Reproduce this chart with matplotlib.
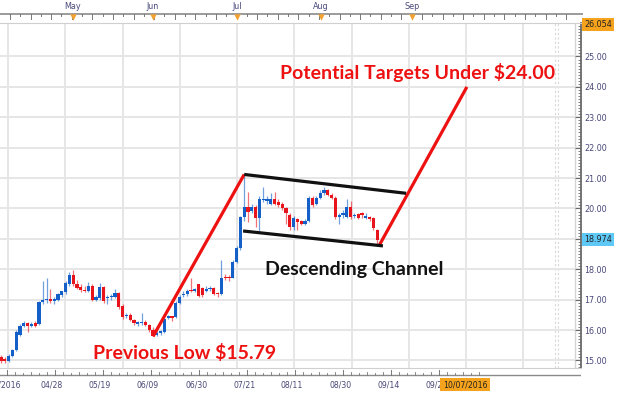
import matplotlib
matplotlib.use("Agg")
import matplotlib.pyplot as plt
from matplotlib.ticker import MultipleLocator
from matplotlib.transforms import blended_transform_factory

# ---------------- data ----------------
opens = [15.12, 15.05, 14.98, 15.15, 15.35, 15.85, 16.15, 16.22, 16.15, 16.22,
         16.20, 16.92, 16.98, 17.02, 16.97, 17.00, 17.15, 17.25, 17.50, 17.82,
         17.50, 17.42, 17.33, 17.30, 17.45, 17.00, 17.05, 17.42, 17.05, 17.08,
         17.10, 17.22, 16.80, 16.45, 16.50, 16.33, 16.20, 16.22, 16.28, 16.17,
         16.00, 15.85, 15.90, 15.95, 16.40, 16.45, 16.42, 16.90, 17.15, 17.20,
         17.32, 17.30, 17.50, 17.38, 17.30, 17.35, 17.38, 17.22, 17.20, 17.75,
         17.75, 17.72, 18.25, 18.70, 19.72, 20.05, 19.92, 20.05, 19.68, 20.28,
         20.25, 20.15, 20.32, 20.20, 20.15, 20.00, 19.78, 19.38, 19.65, 19.58,
         19.50, 19.60, 20.35, 20.15, 20.35, 20.50, 20.60, 20.45, 20.35, 19.72,
         19.78, 19.72, 20.05, 19.75, 19.82, 19.85, 19.70, 19.72, 19.68, 19.30]
highs = [15.18, 15.10, 15.20, 15.38, 16.00, 16.20, 16.30, 16.25, 16.28, 16.30,
         16.95, 17.62, 17.70, 17.35, 17.10, 17.22, 17.30, 17.60, 17.90, 17.97,
         17.65, 17.50, 17.45, 17.58, 17.50, 17.15, 17.55, 17.45, 17.15, 17.20,
         17.35, 17.25, 16.85, 16.55, 16.55, 16.38, 16.30, 16.55, 16.32, 16.20,
         16.10, 15.98, 16.00, 16.40, 16.50, 16.48, 16.95, 17.15, 17.28, 17.35,
         17.70, 17.40, 17.52, 17.42, 17.45, 17.45, 17.42, 17.25, 18.30, 17.85,
         17.80, 18.30, 18.75, 19.75, 21.12, 20.55, 20.15, 20.10, 20.40, 20.70,
         20.40, 20.50, 20.55, 20.30, 20.20, 20.05, 19.85, 19.75, 19.70, 19.62,
         19.65, 20.40, 20.40, 20.40, 20.60, 20.72, 20.65, 20.50, 20.40, 19.85,
         19.95, 20.30, 20.25, 19.85, 19.85, 19.88, 19.85, 19.75, 19.72, 19.32]
lows = [14.93, 14.93, 14.95, 15.12, 15.30, 15.80, 16.10, 15.95, 16.10, 16.10,
        16.18, 16.85, 16.90, 16.90, 16.85, 16.95, 17.10, 17.20, 17.45, 17.45,
        17.35, 17.25, 17.25, 17.25, 16.95, 16.95, 17.00, 16.90, 16.85, 17.00,
        17.05, 16.70, 16.35, 16.40, 16.30, 16.18, 16.15, 16.18, 16.12, 15.95,
        15.79, 15.80, 15.85, 15.92, 16.35, 16.30, 16.40, 16.85, 17.10, 17.12,
        17.25, 17.25, 17.10, 17.10, 17.25, 17.30, 17.15, 17.10, 17.15, 17.65,
        17.60, 17.70, 18.20, 18.65, 19.60, 19.55, 19.85, 19.40, 19.25, 20.20,
        20.15, 20.10, 20.10, 20.05, 19.95, 19.50, 19.30, 19.30, 19.30, 19.45,
        19.45, 19.55, 20.05, 20.10, 20.30, 20.45, 20.40, 20.30, 19.65, 19.50,
        19.70, 19.68, 19.65, 19.68, 19.65, 19.70, 19.65, 19.60, 19.30, 18.80]
closes = [14.98, 14.97, 15.15, 15.35, 15.95, 16.15, 16.22, 16.12, 16.20, 16.15,
          16.92, 17.00, 17.02, 16.97, 17.02, 17.18, 17.27, 17.55, 17.82, 17.50,
          17.40, 17.32, 17.30, 17.45, 17.00, 17.10, 17.42, 16.95, 17.10, 17.12,
          17.22, 16.76, 16.42, 16.50, 16.33, 16.22, 16.25, 16.28, 16.18, 16.00,
          15.82, 15.90, 15.98, 16.38, 16.45, 16.40, 16.90, 17.10, 17.20, 17.30,
          17.28, 17.35, 17.12, 17.15, 17.36, 17.40, 17.20, 17.18, 17.72, 17.72,
          17.70, 18.25, 18.70, 19.72, 20.05, 19.90, 20.05, 19.68, 20.30, 20.32,
          20.30, 20.32, 20.15, 20.12, 20.00, 19.85, 19.38, 19.70, 19.55, 19.50,
          19.58, 20.35, 20.10, 20.35, 20.50, 20.62, 20.45, 20.35, 19.72, 19.78,
          19.85, 20.05, 19.72, 19.80, 19.70, 19.78, 19.75, 19.65, 19.35, 18.97]

price_ticks = [15, 16, 17, 18, 19, 20, 21, 22, 23, 24, 25]
top_price = 26.054
last_price = 18.974

month_labels = ["May", "Jun", "Jul", "Aug", "Sep"]
month_pos = [18.95, 40.0, 62.1, 84.1, 108.2]          # bar-index positions
date_labels = ["04/07/2016", "04/28", "05/19", "06/09", "06/30", "07/21",
               "08/11", "08/30", "09/14", "09/29"]
date_pos = [1.58 + 12.64 * k for k in range(10)]
current_date = "10/07/2016"
current_date_pos = 122.1
vgrid_pos = [1.84 + 15.07 * k for k in range(10)]

# annotation lines (bar index, price)
rally_in_x, rally_in_y = [40, 64], [15.79, 21.12]
rally_out_x, rally_out_y = [99.5, 122.6], [18.78, 24.0]
chan_top_x, chan_top_y = [64, 106.6], [21.12, 20.50]
chan_bot_x, chan_bot_y = [63.7, 100.5], [19.26, 18.77]

txt_target = "Potential Targets Under $24.00"
txt_channel = "Descending Channel"
txt_low = "Previous Low $15.79"

# ---------------- style ----------------
BLUE = "#1560c8"
RED = "#e8141c"
ARED = "#ee1111"
AXC = "#48487a"
GRID = "#e6e6e6"

W, H = 623, 393
fig = plt.figure(figsize=(W / 100, H / 100), dpi=100)
fig.patch.set_facecolor("white")

XMIN, XMAX = -0.263, 152.63
YMIN, YMAX = 14.753, 26.102

ax = fig.add_axes([0, 25 / H, 581 / W, 345 / H])
ax.set_xlim(XMIN, XMAX)
ax.set_ylim(YMIN, YMAX)

# grid & right price axis (the 19.00 label is replaced by the last-price flag)
ax.set_yticks(price_ticks)
ax.set_yticklabels(["" if v == 19 else f"{v:.2f}" for v in price_ticks])
ax.yaxis.set_minor_locator(MultipleLocator(0.1))
ax.yaxis.grid(True, which="major", color=GRID, lw=1.4, zorder=0)
for gx in vgrid_pos:
    ax.axvline(gx, color=GRID, lw=1.4, zorder=0)
ax.axvline(145.8, color="#d8d8d8", lw=0.8, ls=(0, (2, 2)), zorder=0)
ax.axvline(146.6, color="#d8d8d8", lw=0.8, ls=(0, (2, 2)), zorder=0)
ax.axvline(151.05, color="#d4d4d4", lw=1.0, zorder=0)
ax.set_xticks([])

ax.spines["left"].set_visible(False)
ax.spines["top"].set_color("#cfcfcf")
ax.spines["top"].set_linestyle((0, (2, 1)))
ax.spines["bottom"].set_color("#cfcfcf")
ax.spines["right"].set_color("#6a6a6a")
ax.spines["right"].set_linewidth(1.3)

ax.yaxis.tick_right()
ax.tick_params(axis="y", which="major", direction="in", length=4.5, width=0.8,
               color="#6a6a6a", labelcolor=AXC, labelsize=5.8, pad=2.2)
ax.tick_params(axis="y", which="minor", direction="in", length=2.2, width=0.6,
               color="#6a6a6a")

# candles
xs = list(range(len(opens)))
for i in xs:
    o, h, l, c = opens[i], highs[i], lows[i], closes[i]
    col = BLUE if c >= o else RED
    ax.vlines(i, l, h, color=col, lw=0.9, alpha=0.6, zorder=2)
    ax.bar(i, max(abs(c - o), 0.03), bottom=min(o, c), width=0.8,
           color=col, lw=0, zorder=3)

# annotations
ax.plot(rally_in_x, rally_in_y, color=ARED, lw=2.3, solid_capstyle="butt", zorder=5)
ax.plot(rally_out_x, rally_out_y, color=ARED, lw=2.3, solid_capstyle="butt", zorder=5)
ax.plot(chan_top_x, chan_top_y, color="#111111", lw=2.3, solid_capstyle="butt", zorder=5)
ax.plot(chan_bot_x, chan_bot_y, color="#111111", lw=2.3, solid_capstyle="butt", zorder=5)

tfont = dict(family="Lato", weight="bold", fontsize=14)
ax.text(109.5, 24.49, txt_target, color=ARED, ha="center", va="center", zorder=6, **tfont)
ax.text(93.0, 17.98, txt_channel, color="#111111", ha="center", va="center", zorder=6, **tfont)
ax.text(48.2, 15.25, txt_low, color=ARED, ha="center", va="center", zorder=6, **tfont)

# price flags
tr = blended_transform_factory(ax.transAxes, ax.transData)
ax.text(1.006, top_price, f"{top_price:.3f}", transform=tr, ha="left", va="center",
        fontsize=5.8, color="#222222", clip_on=False,
        bbox=dict(boxstyle="square,pad=0.25", fc="#f5a21c", ec="none"))
ax.text(1.006, last_price, f"{last_price:.3f}", transform=tr, ha="left", va="center",
        fontsize=5.8, color="#222222", clip_on=False,
        bbox=dict(boxstyle="square,pad=0.25", fc="#5ec8f7", ec="none"))

# ---------------- top strip ----------------
axt = fig.add_axes([0, (H - 23) / H, 583 / W, 23 / H])
axt.set_xlim(XMIN, XMAX * 583 / 581)
axt.set_ylim(23, 0)
axt.axis("off")
axt.plot([XMIN, XMAX * 583 / 581], [14, 14], color="#8a8a8a", lw=1.2)
k = 0
p = 2.37
while p < 151:
    axt.plot([p, p], [14, 18.5 if k % 2 == 0 else 16.3], color="#777777", lw=0.7)
    p += 2.71
    k += 1
for lab, mp in zip(month_labels, month_pos):
    axt.text(mp, 6.5, lab, ha="center", va="center", fontsize=5.8, color=AXC)
axt.scatter(month_pos, [17.3] * len(month_pos), marker="v", s=22, color="#f2a232",
            zorder=5, lw=0)

# ---------------- bottom strip ----------------
axb = fig.add_axes([0, 0, 581 / W, 25 / H])
axb.set_xlim(XMIN, XMAX)
axb.set_ylim(393, 368)
axb.axis("off")
axb.plot([XMIN, XMAX], [375, 375], color="#8a8a8a", lw=1.0)
for dp in date_pos:
    axb.plot([dp, dp], [369.5, 375], color="#777777", lw=0.7)
    for j in range(1, 6):
        mx = dp + 12.64 * j / 6
        axb.plot([mx, mx], [372 if j % 2 else 373, 375], color="#777777", lw=0.6)
for idx, (lab, dp) in enumerate(zip(date_labels, date_pos)):
    if idx == 0:
        axb.text(dp + 3.6, 384.5, lab, ha="right", va="center", fontsize=5.6, color=AXC)
    else:
        axb.text(dp - 0.8, 384.5, lab, ha="center", va="center", fontsize=5.6, color=AXC)
axb.text(current_date_pos, 384.5, current_date, ha="center", va="center",
         fontsize=5.6, color="#222222", zorder=6,
         bbox=dict(boxstyle="square,pad=0.3", fc="#f5a21c", ec="none"))

fig.savefig("out.png", dpi=100, facecolor="white")
